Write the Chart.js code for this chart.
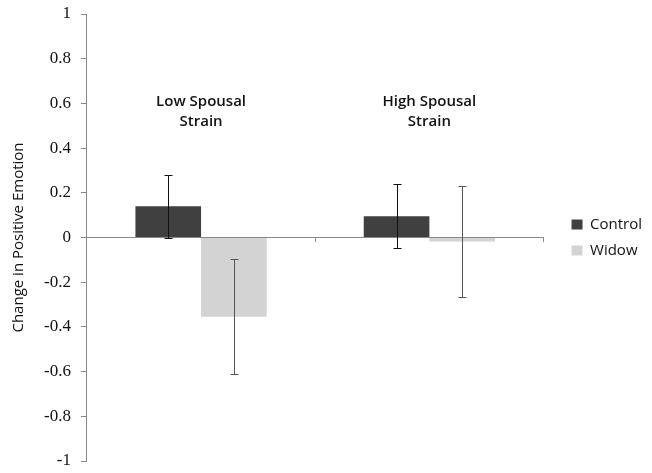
<!DOCTYPE html>
<html>
<head>
<meta charset="utf-8">
<script src="https://cdn.jsdelivr.net/npm/chart.js@4"></script>
<style>
  body { margin: 0; background: #fff; }
  #wrap { width: 652px; height: 473px; }
</style>
</head>
<body>
<div id="wrap"><canvas id="plot"></canvas></div>
<script>
// data
const categories = [['Low Spousal', 'Strain'], ['High Spousal', 'Strain']]
const seriesNames = ['Control', 'Widow']
const controlMeans = [0.14, 0.095]
const widowMeans = [-0.355, -0.018]
const controlErr = [0.14, 0.143]
const widowErr = [0.257, 0.25]
const yTicks = [1, 0.8, 0.6, 0.4, 0.2, 0, -0.2, -0.4, -0.6, -0.8, -1]

const sans = "'Open Sans', sans-serif"
const serif = "'Liberation Serif', serif"

// error bars drawn from the arrays above through the chart's scales
const errorBars = {
  id: 'errorBars',
  afterDatasetsDraw(chart) {
    const ctx = chart.ctx
    const y = chart.scales.y
    chart.data.datasets.forEach((ds, i) => {
      const meta = chart.getDatasetMeta(i)
      meta.data.forEach((bar, j) => {
        const v = ds.data[j]
        const e = ds.errors[j]
        const top = Math.round(y.getPixelForValue(v + e)) + 0.5
        const bot = Math.round(y.getPixelForValue(v - e)) + 0.5
        const x = Math.round(bar.x) + 0.5
        ctx.save()
        ctx.strokeStyle = ds.errorColor
        ctx.lineWidth = 1
        ctx.beginPath()
        ctx.moveTo(x, top); ctx.lineTo(x, bot)
        ctx.moveTo(x - 4, top); ctx.lineTo(x + 4, top)
        ctx.moveTo(x - 4, bot); ctx.lineTo(x + 4, bot)
        ctx.stroke()
        ctx.restore()
      })
    })
  }
}

const chart = new Chart(
  document.getElementById('plot'),
  {
    type: 'bar',
    data: {
      labels: categories,
      datasets: [
        {
          label: seriesNames[0],
          data: controlMeans,
          errors: controlErr,
          errorColor: '#111',
          backgroundColor: '#404040',
          categoryPercentage: 0.575,
          barPercentage: 1,
        },
        {
          label: seriesNames[1],
          data: widowMeans,
          errors: widowErr,
          errorColor: '#555',
          backgroundColor: '#d3d3d3',
          categoryPercentage: 0.575,
          barPercentage: 1,
        }
      ]
    },
    options: {
      responsive: true,
      maintainAspectRatio: false,
      animation: false,
      events: [],
      layout: { padding: { top: 14, bottom: 12, left: 10, right: 0 } },
      plugins: {
        legend: {
          position: 'right',
          labels: {
            boxWidth: 11,
            boxHeight: 10,
            padding: 11,
            color: '#111',
            font: { family: sans, size: 15 }
          }
        },
        tooltip: { enabled: false }
      },
      scales: {
        x: {
          position: { y: 0.687 },
          grid: { display: false },
          border: { display: false },
          ticks: {
            padding: 0,
            color: '#111',
            maxRotation: 0,
            font: { family: sans, size: 15, weight: '600', lineHeight: 1.333 }
          }
        },
        x2: {
          type: 'category',
          labels: categories,
          position: { y: 0 },
          offset: true,
          grid: { offset: true, drawOnChartArea: false, tickLength: 4, color: '#888' },
          border: { color: '#888' },
          ticks: { display: false }
        },
        y: {
          min: -1,
          max: 1,
          afterBuildTicks: (axis) => { axis.ticks = yTicks.map(v => ({ value: v })) },
          grid: { drawOnChartArea: false, tickLength: 6, color: '#888' },
          border: { color: '#888' },
          ticks: {
            color: '#111',
            padding: 10,
            font: { family: serif, size: 17, lineHeight: 0.235 },
            callback: (v) => String(Math.round(v * 10) / 10)
          },
          title: {
            display: true,
            text: 'Change in Positive Emotion',
            color: '#111',
            padding: { top: 0, bottom: 6 },
            font: { family: sans, size: 15 }
          }
        },
        // empty strip between the plot and the legend
        gap: {
          type: 'linear',
          position: 'right',
          grid: { display: false },
          border: { display: false },
          ticks: { display: false },
          afterFit: (s) => { s.width = 17 }
        }
      }
    },
    plugins: [errorBars]
  }
)
</script>
</body>
</html>
